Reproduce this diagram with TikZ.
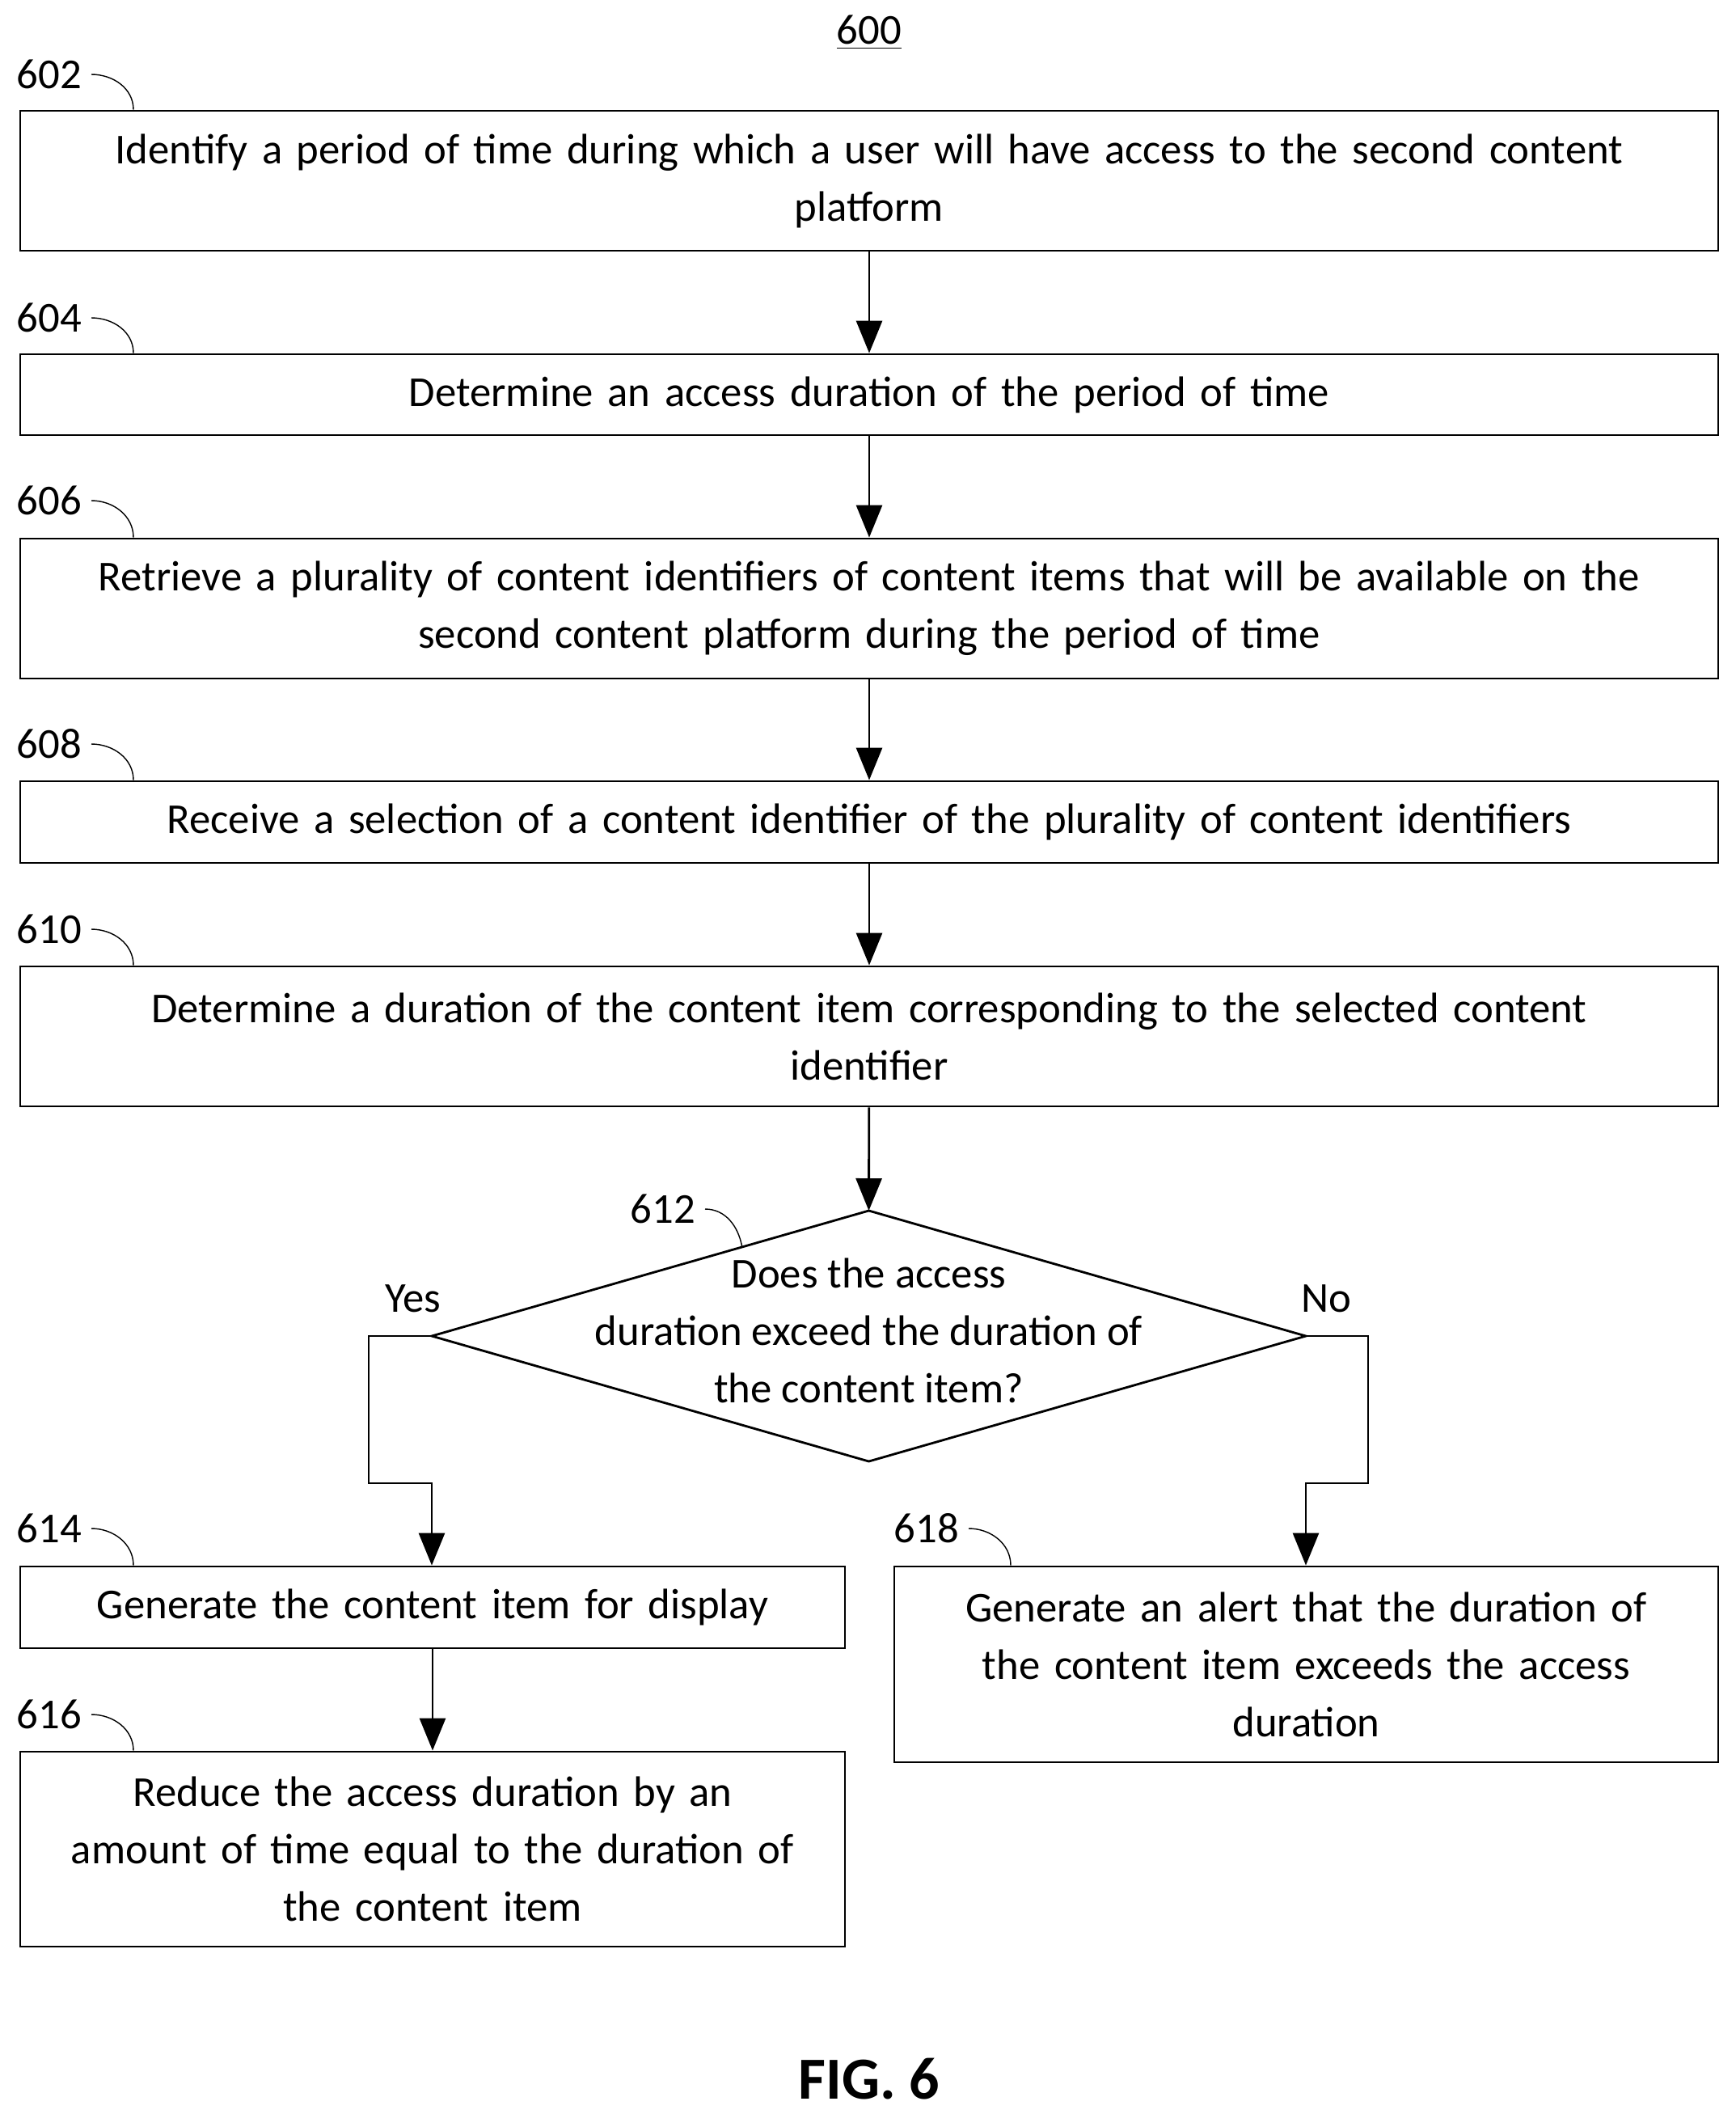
\documentclass[tikz,border=0pt]{standalone}
\usepackage{fontspec}
\setmainfont{Carlito}
\usetikzlibrary{arrows.meta,calc}
\begin{document}
\begin{tikzpicture}[
    % Global style settings
    step_box/.style={draw, thick, rectangle, align=center, inner sep=0pt,
        font=\fontsize{15}{20.2}\selectfont},
    ref_num/.style={font=\fontsize{15}{18}\selectfont, anchor=east, inner sep=1pt},
    flow_arrow/.style={thick, -{Triangle[length=4mm, width=3.2mm]}},
    tick_line/.style={thin}
]
    \useasboundingbox (0,0) rectangle (21.47,-26.14);

    % title
    \node[font=\fontsize{15}{18}\selectfont] (title) at (10.75,-0.40) {\underline{600}};

    % steps
    \node[step_box, minimum width=21.0cm, minimum height=1.73cm, text width=20.4cm] (b602) at (10.75,-2.235)
        {Identify a period of time during which a user will have access to the second content\\platform};
    \node[step_box, minimum width=21.0cm, minimum height=1.0cm, text width=20.4cm] (b604) at (10.75,-4.88)
        {Determine an access duration of the period of time};
    \node[step_box, minimum width=21.0cm, minimum height=1.73cm, text width=20.4cm] (b606) at (10.75,-7.525)
        {Retrieve a plurality of content identifiers of content items that will be available on the\\second content platform during the period of time};
    \node[step_box, minimum width=21.0cm, minimum height=1.01cm, text width=20.4cm] (b608) at (10.75,-10.165)
        {Receive a selection of a content identifier of the plurality of content identifiers};
    \node[step_box, minimum width=21.0cm, minimum height=1.73cm, text width=20.4cm] (b610) at (10.75,-12.815)
        {Determine a duration of the content item corresponding to the selected content\\identifier};

    % decision
    \coordinate (dtop) at (10.745,-14.97);
    \coordinate (dbot) at (10.745,-18.07);
    \coordinate (dleft) at (5.34,-16.52);
    \coordinate (dright) at (16.15,-16.52);
    \draw[thick] (dtop) -- (dright) -- (dbot) -- (dleft) -- cycle;
    \node[align=center, font=\fontsize{15}{20.2}\selectfont] (d612) at (10.745,-16.45)
        {Does the access\\duration exceed the duration of\\the content item?};

    \node[step_box, minimum width=10.2cm, minimum height=1.01cm, text width=9.8cm] (b614) at (5.35,-19.875)
        {Generate the content item for display};
    \node[step_box, minimum width=10.2cm, minimum height=2.41cm, text width=9.8cm] (b616) at (5.35,-22.865)
        {Reduce the access duration by an\\amount of time equal to the duration of\\the content item};
    \node[step_box, minimum width=10.19cm, minimum height=2.42cm, text width=9.8cm] (b618) at (16.155,-20.58)
        {Generate an alert that the duration of\\the content item exceeds the access\\duration};

    % reference numbers
    \foreach \num/\y in {602/-0.92, 604/-3.93, 606/-6.19, 608/-9.20, 610/-11.49, 614/-18.90, 616/-21.20}{
        \node[ref_num] (l\num) at (1.05,\y) {\num};
        \draw[tick_line] ($(l\num.east)+(0.08,0)$) to[out=0, in=90] (b\num.north west -| 1.65,0);
    }
    \node[ref_num] (l612) at (8.64,-14.95) {612};
    \draw[tick_line] ($(l612.east)+(0.08,0)$) to[out=0, in=100] ($(dtop)!0.29!(dleft)$);
    \node[ref_num] (l618) at (11.9,-18.90) {618};
    \draw[tick_line] ($(l618.east)+(0.08,0)$) to[out=0, in=90] (b618.north west -| 12.5,0);

    % arrows
    \draw[flow_arrow] (b602) -- (b604);
    \draw[flow_arrow] (b604) -- (b606);
    \draw[flow_arrow] (b606) -- (b608);
    \draw[flow_arrow] (b608) -- (b610);
    \draw[flow_arrow] (b610) -- (dtop);
    \draw[flow_arrow] (dleft) -- (4.56,-16.52) -- (4.56,-18.34) -- (5.34,-18.34) -- (b614.north -| 5.34,0);
    \draw[flow_arrow] (dright) -- (16.92,-16.52) -- (16.92,-18.34) -- (16.15,-18.34) -- (b618.north -| 16.15,0);
    \draw[flow_arrow] (b614) -- (b616);

    \node[font=\fontsize{15}{18}\selectfont] (yes) at (5.11,-16.06) {Yes};
    \node[font=\fontsize{15}{18}\selectfont] (no) at (16.40,-16.06) {No};

    \node[font=\fontsize{21}{24}\selectfont\bfseries] (fig) at (10.75,-25.71) {FIG. 6};
\end{tikzpicture}
\end{document}
